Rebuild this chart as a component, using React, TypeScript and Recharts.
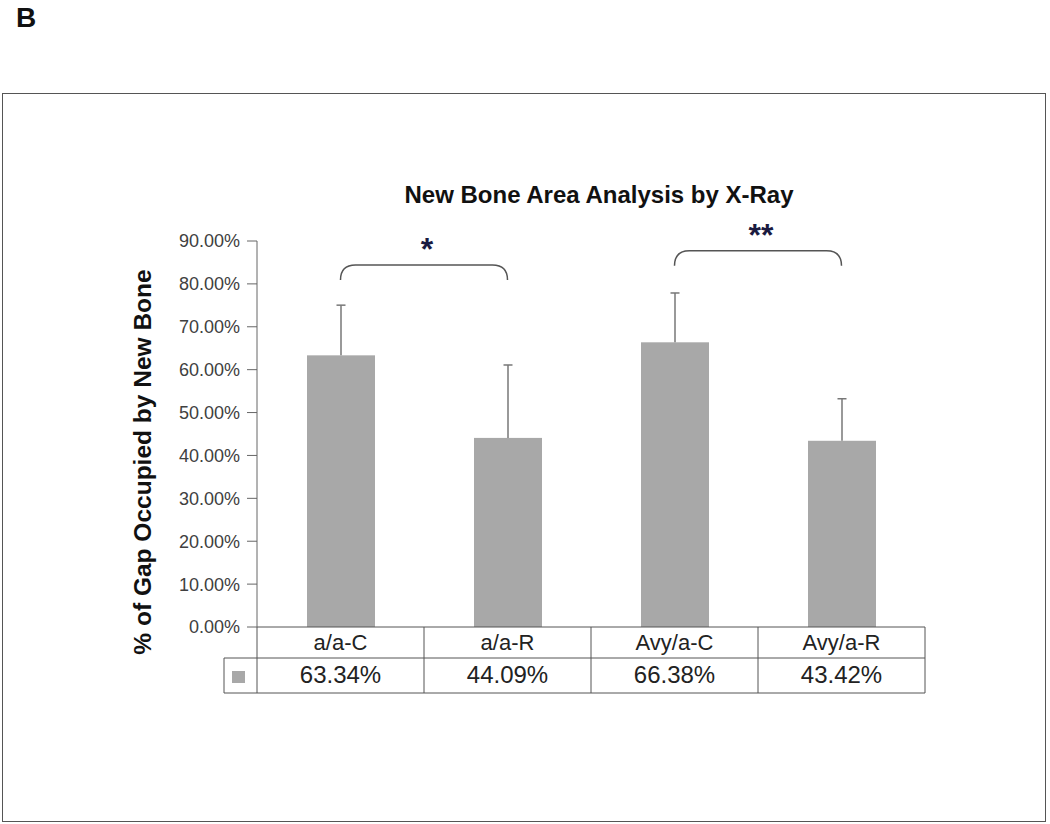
import { BarChart, Bar, XAxis, YAxis, ReferenceLine } from 'recharts';

const groups = ['a/a-C', 'a/a-R', 'Avy/a-C', 'Avy/a-R'];
const newBone = [63.34, 44.09, 66.38, 43.42];
const errUp = [11.7, 17.0, 11.5, 9.8];
const yTicks = [0, 10, 20, 30, 40, 50, 60, 70, 80, 90];
const brackets = [
  { from: 'a/a-C', to: 'a/a-R', y: 84.4, mark: '*' },
  { from: 'Avy/a-C', to: 'Avy/a-R', y: 87.7, mark: '**' },
];

const data = groups.map((g, i) => ({ name: g, value: newBone[i], err: errUp[i] }));

const W = 1050;
const H = 824;
const PLOT_L = 257;
const PLOT_R = 925;
const PLOT_T = 241;
const PLOT_B = 627;
const Y_AXIS_W = 80;
const X_AXIS_H = 66;
const BAND = (PLOT_R - PLOT_L) / groups.length;
const FONT = '"Liberation Sans", Arial, sans-serif';
const LINE = '#555';
const BAR = '#a8a8a8';

const TableTick = (props: any) => {
  const { x, y, payload, index } = props;
  const left = x - BAND / 2;
  const right = x + BAND / 2;
  const r1 = y + 31;
  const r2 = y + 66;
  return (
    <g>
      {index === 0 && (
        <g>
          <line x1={left} y1={y} x2={left} y2={r2} stroke={LINE} />
          <line x1={left - 33} y1={r1} x2={left} y2={r1} stroke={LINE} />
          <line x1={left - 33} y1={r2} x2={left} y2={r2} stroke={LINE} />
          <line x1={left - 33} y1={r1} x2={left - 33} y2={r2} stroke={LINE} />
          <rect x={left - 25} y={r1 + 13} width={13} height={12} fill={BAR} />
        </g>
      )}
      <line x1={right} y1={y} x2={right} y2={r2} stroke={LINE} />
      <line x1={left} y1={r1} x2={right} y2={r1} stroke={LINE} />
      <line x1={left} y1={r2} x2={right} y2={r2} stroke={LINE} />
      <text x={x} y={y + 23} textAnchor="middle" fontSize={22} fill="#222" fontFamily={FONT}>
        {payload.value}
      </text>
      <text x={x} y={r1 + 25} textAnchor="middle" fontSize={24} fill="#222" fontFamily={FONT}>
        {newBone[index].toFixed(2)}%
      </text>
    </g>
  );
};

// bar with an upward-only whisker, scaled from the bar's own pixel height
const BarWithError = (p: any) => {
  const { x, y, width, height, payload } = p;
  const pxPerUnit = height / payload.value;
  const cx = x + width / 2;
  const top = y - payload.err * pxPerUnit;
  return (
    <g>
      <rect x={x} y={y} width={width} height={height} fill={BAR} />
      <line x1={cx} y1={y} x2={cx} y2={top} stroke="#777" strokeWidth={1.5} />
      <line x1={cx - 4.5} y1={top} x2={cx + 4.5} y2={top} stroke="#777" strokeWidth={1.5} />
    </g>
  );
};

const bracketShape = (mark: string) => (p: any) => {
  const { x1, y1, x2 } = p;
  const r = 15;
  const drop = 15;
  const d = `M${x1},${y1 + drop} Q${x1},${y1} ${x1 + r},${y1} L${x2 - r},${y1} Q${x2},${y1} ${x2},${y1 + drop}`;
  return (
    <g>
      <path d={d} fill="none" stroke="#555" strokeWidth={1.5} />
      <text
        x={(x1 + x2) / 2 + 3}
        y={y1 - 5}
        textAnchor="middle"
        fontSize={32}
        fontWeight="bold"
        fill="#1a1a40"
        fontFamily={FONT}
      >
        {mark}
      </text>
    </g>
  );
};

export default function App() {
  return (
    <div style={{ position: 'absolute', left: 0, top: 0, width: W, height: H, background: '#fff' }}>
      <svg
        width={W}
        height={H}
        style={{ position: 'absolute', left: 0, top: 0, pointerEvents: 'none' }}
      >
        <rect x={2.5} y={93.5} width={1043} height={728} fill="none" stroke="#555" />
        <text x={16} y={27} fontSize={28} fontWeight="bold" fill="#111" fontFamily={FONT}>
          B
        </text>
        <text x={599} y={203} textAnchor="middle" fontSize={24} fontWeight="bold" fill="#111" fontFamily={FONT}>
          New Bone Area Analysis by X-Ray
        </text>
        <text
          transform="translate(151,462) rotate(-90)"
          textAnchor="middle"
          fontSize={24.5}
          fontWeight="bold"
          fill="#111"
          fontFamily={FONT}
        >
          % of Gap Occupied by New Bone
        </text>
      </svg>
      <div style={{ position: 'absolute', left: 0, top: 0 }}>
        <BarChart
          width={W}
          height={H}
          data={data}
          margin={{
            top: PLOT_T,
            right: W - PLOT_R,
            left: PLOT_L - Y_AXIS_W,
            bottom: H - PLOT_B - X_AXIS_H,
          }}
        >
          <XAxis
            dataKey="name"
            height={X_AXIS_H}
            tickLine={false}
            tickSize={0}
            tickMargin={0}
            stroke={LINE}
            tick={<TableTick />}
            interval={0}
          />
          <YAxis
            width={Y_AXIS_W}
            domain={[0, 90]}
            ticks={yTicks}
            tickSize={10}
            tickMargin={7}
            stroke="#666"
            tick={{ fontSize: 18, fill: '#404040', fontFamily: FONT }}
            tickFormatter={(v: number) => `${v.toFixed(2)}%`}
          />
          <Bar
            dataKey="value"
            fill={BAR}
            barSize={68}
            shape={<BarWithError />}
            isAnimationActive={false}
          />
          {brackets.map((b) => (
            <ReferenceLine
              key={b.from}
              segment={[
                { x: b.from, y: b.y },
                { x: b.to, y: b.y },
              ]}
              shape={bracketShape(b.mark)}
            />
          ))}
        </BarChart>
      </div>
    </div>
  );
}
